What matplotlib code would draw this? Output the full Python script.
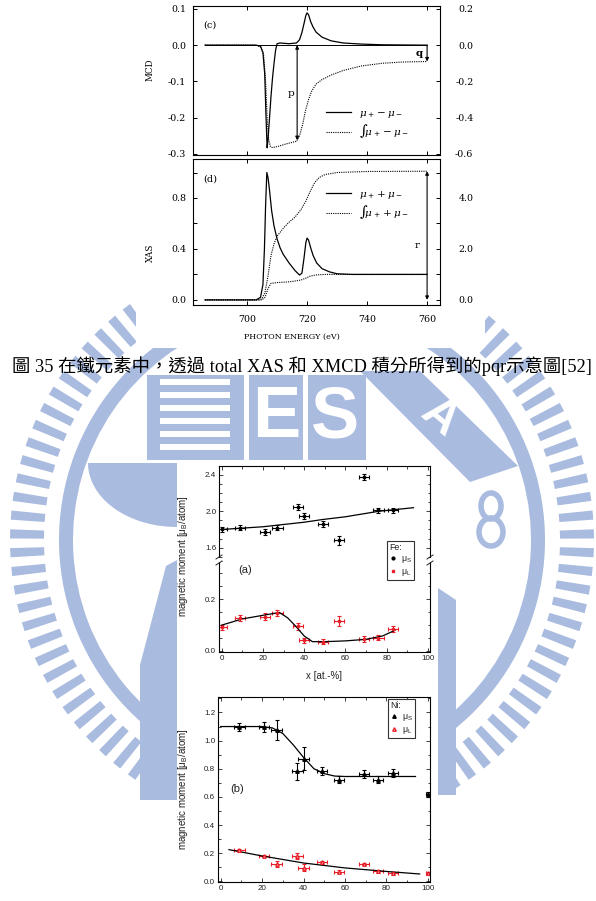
import numpy as np
import matplotlib.pyplot as plt
from matplotlib.patches import Rectangle, Polygon, Wedge, Ellipse
from matplotlib.lines import Line2D
from matplotlib.ticker import MultipleLocator, FormatStrFormatter

# ---- (c) XMCD spectrum, left axis ----
mcd_e = [686, 700, 703, 704.5, 705.3, 705.9, 706.3, 706.7, 707.0, 707.5, 708.0, 708.5, 709.0, 709.5, 710.0,
         711, 714, 716.5, 717.5, 718.3, 719.0, 719.6, 720.0, 720.5, 721.2,
         722, 723, 725, 728, 732, 738, 745, 760]
mcd = [0, 0, 0, -0.003, -0.02, -0.08, -0.19, -0.283, -0.26, -0.20, -0.14, -0.09, -0.05, -0.015, 0.004,
       0.006, 0.004, 0.006, 0.015, 0.035, 0.06, 0.082, 0.089, 0.084, 0.065,
       0.05, 0.036, 0.022, 0.012, 0.006, 0.003, 0.001, 0]
# integral of XMCD, right axis
mcd_int_e = [686, 703, 704.5, 705.5, 706.2, 706.7, 707.2, 707.8, 708.5, 710, 713, 716.5, 717.5,
             718.5, 719.5, 720.5, 721.5, 723, 725, 728, 732, 738, 745, 752, 760]
mcd_int = [0, 0, -0.01, -0.05, -0.2, -0.40, -0.52, -0.56, -0.565, -0.56, -0.545, -0.53, -0.50,
           -0.44, -0.36, -0.30, -0.255, -0.215, -0.19, -0.165, -0.14, -0.115, -0.10, -0.093, -0.09]
p_energy = 716.7

# ---- (d) XAS spectrum, left axis ----
xas_e = [686, 703, 704.5, 705.3, 705.8, 706.2, 706.6, 707.0, 707.5, 708.2,
         709, 710, 711, 712, 714, 716, 717.5, 718.3, 719, 719.6,
         720, 720.5, 721.2, 722, 723.2, 725, 727.5, 730, 735, 760]
xas = [0, 0, 0.02, 0.12, 0.40, 0.75, 1.0, 0.96, 0.86, 0.70,
       0.58, 0.48, 0.41, 0.36, 0.29, 0.23, 0.195, 0.21, 0.33, 0.45,
       0.485, 0.47, 0.41, 0.35, 0.29, 0.245, 0.22, 0.205, 0.2, 0.2]
# integral of XAS and step background, right axis
xas_int_e = [686, 704, 705, 706, 707, 708, 709, 710, 712, 714, 716, 718, 719.5, 721, 722.5, 724, 726, 730, 740, 760]
xas_int = [0, 0, 0.05, 0.3, 0.95, 1.75, 2.2, 2.5, 2.8, 3.05, 3.25, 3.55, 3.85, 4.25, 4.6, 4.8, 4.92, 5.0, 5.04, 5.05]
step_e = [686, 705, 706, 707, 708, 710, 714, 716.5, 718, 719.5, 721, 723, 726, 760]
step = [0, 0, 0.1, 0.45, 0.65, 0.68, 0.71, 0.75, 0.78, 0.85, 0.93, 0.98, 1.0, 1.0]

# ---- (a) Fe moments ----
fe_x = [0, 9, 21, 27, 37, 40, 49, 57, 69, 76, 83]
fe_xerr = [2.5, 2.5, 2.5, 2.5, 2.5, 2.5, 2.5, 2.5, 2.5, 2.5, 2.5]
fe_spin = [1.80, 1.82, 1.77, 1.82, 2.05, 1.95, 1.86, 1.68, 2.38, 2.01, 2.01]
fe_spin_err = [0.03, 0.03, 0.03, 0.03, 0.03, 0.03, 0.03, 0.05, 0.03, 0.03, 0.03]
fe_orb = [0.091, 0.129, 0.133, 0.147, 0.095, 0.041, 0.036, 0.117, 0.046, 0.051, 0.085]
fe_orb_err = [0.01, 0.012, 0.012, 0.01, 0.012, 0.01, 0.01, 0.02, 0.01, 0.01, 0.01]
fe_spin_fit_x = [0, 20, 40, 49, 60, 76, 93]
fe_spin_fit = [1.80, 1.83, 1.88, 1.91, 1.94, 2.00, 2.04]
fe_orb_fit_x = [0, 10, 20, 28, 32, 36, 40, 44, 50, 60, 70, 78, 84]
fe_orb_fit = [0.100, 0.124, 0.138, 0.149, 0.128, 0.095, 0.058, 0.036, 0.036, 0.039, 0.045, 0.058, 0.080]

# ---- (b) Ni moments ----
ni_x = [9, 21, 27, 37, 40, 49, 57, 69, 76, 83, 100]
ni_xerr = [2.5, 2.5, 2.5, 2.5, 2.5, 2.5, 2.5, 2.5, 2.5, 2.5, 1.0]
ni_spin = [1.096, 1.096, 1.077, 0.782, 0.872, 0.784, 0.723, 0.761, 0.723, 0.770, 0.617]
ni_spin_err = [0.03, 0.035, 0.07, 0.06, 0.08, 0.03, 0.025, 0.03, 0.025, 0.03, 0.02]
ni_orb = [0.220, 0.180, 0.123, 0.182, 0.097, 0.135, 0.069, 0.123, 0.071, 0.057, 0.057]
ni_orb_err = [0.01, 0.01, 0.02, 0.02, 0.025, 0.012, 0.01, 0.01, 0.01, 0.01, 0.01]
ni_spin_fit_x = [0, 20, 25, 30, 35, 40, 45, 50, 55, 60, 94]
ni_spin_fit = [1.10, 1.10, 1.09, 1.05, 0.97, 0.88, 0.80, 0.765, 0.748, 0.745, 0.745]
ni_orb_fit_x = [4, 20, 40, 60, 80, 96]
ni_orb_fit = [0.225, 0.18, 0.13, 0.095, 0.07, 0.052]

caption = '圖 35 在鐵元素中，透過 total XAS 和 XMCD 積分所得到的pqr示意圖[52]'

plt.rcParams['mathtext.fontset'] = 'dejavuserif'

W, H = 596, 901
fig = plt.figure(figsize=(W / 100, H / 100), dpi=100)


def box(x0, y0, x1, y1):
    return [x0 / W, 1 - y1 / H, (x1 - x0) / W, (y1 - y0) / H]


# background layer: watermark and the two pasted (white) images
bg = fig.add_axes([0, 0, 1, 1], zorder=0)
bg.set_xlim(0, W)
bg.set_ylim(H, 0)
bg.axis('off')
wm = '#a9bbdf'
cx, cy = 302, 540
for a in np.arange(-58, 239, 3.7):
    t0, t1 = np.radians(a - 0.9), np.radians(a + 0.9)
    pts = [(cx + r * np.cos(t), cy - r * np.sin(t)) for r, t in [(258, t0), (292, t0), (292, t1), (258, t1)]]
    bg.add_patch(Polygon(pts, color=wm, lw=0))
bg.add_patch(Wedge((cx, cy), 243, -238, 58, width=14, color=wm, lw=0))
# "T" stripes block, E and S blocks
bg.add_patch(Rectangle((147, 375), 219, 85, color=wm, lw=0))
for yy in [379, 392, 405, 418, 431, 444]:
    bg.add_patch(Rectangle((160, yy), 70, 6, color='white', lw=0))
bg.add_patch(Rectangle((244, 375), 5, 85, color='white', lw=0))
bg.add_patch(Rectangle((303, 375), 5, 85, color='white', lw=0))
bg.text(276, 418, 'E', color='white', fontsize=52, fontweight='bold', family='Liberation Sans',
        ha='center', va='center')
bg.text(335, 418, 'S', color='white', fontsize=52, fontweight='bold', family='Liberation Sans',
        ha='center', va='center')
bg.add_patch(Polygon([(360, 371), (420, 371), (518, 466), (470, 482)], color=wm, lw=0))
bg.text(440, 418, 'A', color='white', fontsize=34, fontweight='bold', family='Liberation Sans',
        ha='center', va='center', rotation=-40)
bg.add_patch(Ellipse((491, 506), 20, 26, fill=False, ec=wm, lw=4))
bg.add_patch(Ellipse((491, 532), 24, 28, fill=False, ec=wm, lw=4))
phi = np.radians(np.linspace(0, 90, 30))
bg.add_patch(Polygon([(177, 463)] + [(177 - 89 * np.cos(f), 463 + 64 * np.sin(f)) for f in phi],
                     color=wm, lw=0))
bg.add_patch(Polygon([(166, 566), (177, 560), (177, 800), (140, 800), (140, 665)], color=wm, lw=0))
bg.add_patch(Polygon([(438, 588), (456, 600), (456, 795), (438, 795)], color=wm, lw=0))
bg.add_patch(Rectangle((136, 0), 349, 348, color='white', lw=0))
bg.add_patch(Rectangle((177, 460), 261, 441, color='white', lw=0))

serif = 'DejaVu Serif'
sans = 'Liberation Sans'

# ---------------- (c) MCD ----------------
axc = fig.add_axes(box(193, 6, 440, 155), zorder=2)
axc.patch.set_alpha(0)
axc.plot(mcd_e, mcd, color='k', lw=0.9)
axc.hlines(0, mcd_e[0], mcd_e[-1], color='k', lw=0.7)
axc.set_xlim(682, 764.3)
axc.set_ylim(-0.303, 0.108)
axc.xaxis.set_major_locator(MultipleLocator(20))
axc.yaxis.set_major_locator(MultipleLocator(0.1))
axc.yaxis.set_major_formatter(FormatStrFormatter('%.1f'))
axc.tick_params(direction='in', length=3, width=0.7, top=True, labelbottom=False, labelsize=6.8, pad=5)
for lab in axc.get_yticklabels():
    lab.set_family(serif)

axc2 = axc.twinx()
axc2.set_zorder(2)
axc2.plot(mcd_int_e, mcd_int, color='k', lw=0.8, ls=(0, (1, 1)))
axc2.set_ylim(-0.606, 0.216)
axc2.yaxis.set_major_locator(MultipleLocator(0.2))
axc2.yaxis.set_major_formatter(FormatStrFormatter('%.1f'))
axc2.tick_params(direction='in', length=3, width=0.7, labelsize=6.8, pad=24)
for lab in axc2.get_yticklabels():
    lab.set_family(serif)
    lab.set_ha('right')
p_bot = np.interp(p_energy, mcd_int_e, mcd_int)
axc2.annotate('', xy=(p_energy, 0), xytext=(p_energy, p_bot),
              arrowprops=dict(arrowstyle='<|-|>', color='k', lw=0.8, mutation_scale=5, shrinkA=0, shrinkB=0))
axc2.annotate('', xy=(mcd_int_e[-1], mcd_int[-1]), xytext=(mcd_int_e[-1], 0),
              arrowprops=dict(arrowstyle='-|>', color='k', lw=0.8, mutation_scale=5, shrinkA=0, shrinkB=0))
axc.legend([Line2D([], [], color='k', lw=0.9), Line2D([], [], color='k', lw=0.8, ls=(0, (1, 1)))],
           [r'$\mu_+ - \mu_-$', r'$\int\!\mu_+ - \mu_-$'],
           loc='upper left', bbox_to_anchor=(326 / W, 1 - 108 / H), bbox_transform=fig.transFigure,
           frameon=False, fontsize=7.5, handlelength=2.4, handletextpad=0.8, labelspacing=0.25,
           borderaxespad=0, borderpad=0)
for s in axc.spines.values():
    s.set_linewidth(0.7)

# ---------------- (d) XAS ----------------
axd = fig.add_axes(box(193, 159, 440, 305), zorder=2)
axd.patch.set_alpha(0)
axd.plot(xas_e, xas, color='k', lw=0.9)
axd.set_xlim(682, 764.3)
axd.set_ylim(-0.04, 1.106)
axd.xaxis.set_major_locator(MultipleLocator(20))
axd.xaxis.set_major_formatter(FormatStrFormatter('%d'))
axd.yaxis.set_major_locator(MultipleLocator(0.4))
axd.yaxis.set_minor_locator(MultipleLocator(0.2))
axd.yaxis.set_major_formatter(FormatStrFormatter('%.1f'))
axd.tick_params(which='both', direction='in', length=3, width=0.7, top=True, labelsize=6.8, pad=5)
axd.tick_params(axis='x', pad=7)
for lab in axd.get_yticklabels() + axd.get_xticklabels():
    lab.set_family(serif)

axd2 = axd.twinx()
axd2.set_zorder(2)
axd2.plot(xas_int_e, xas_int, color='k', lw=0.8, ls=(0, (1, 1)))
axd2.plot(step_e, step, color='k', lw=0.8, ls=(0, (1, 1)))
axd2.set_ylim(-0.2, 5.53)
axd2.yaxis.set_major_locator(MultipleLocator(2))
axd2.yaxis.set_minor_locator(MultipleLocator(1))
axd2.yaxis.set_major_formatter(FormatStrFormatter('%.1f'))
axd2.tick_params(which='both', direction='in', length=3, width=0.7, labelsize=6.8, pad=24)
for lab in axd2.get_yticklabels():
    lab.set_family(serif)
    lab.set_ha('right')
axd2.annotate('', xy=(xas_int_e[-1], xas_int[-1]), xytext=(xas_int_e[-1], 0),
              arrowprops=dict(arrowstyle='<|-|>', color='k', lw=0.8, mutation_scale=5, shrinkA=0, shrinkB=0))
axd.legend([Line2D([], [], color='k', lw=0.9), Line2D([], [], color='k', lw=0.8, ls=(0, (1, 1)))],
           [r'$\mu_+ + \mu_-$', r'$\int\!\mu_+ + \mu_-$'],
           loc='upper left', bbox_to_anchor=(326 / W, 1 - 189 / H), bbox_transform=fig.transFigure,
           frameon=False, fontsize=7.5, handlelength=2.4, handletextpad=0.8, labelspacing=0.25,
           borderaxespad=0, borderpad=0)
for s in axd.spines.values():
    s.set_linewidth(0.7)

# ---------------- (a) Fe ----------------
ink = '#222222'
red = '#e8202a'
ax_at = fig.add_axes(box(219, 466, 430, 560), zorder=2)
ax_ab = fig.add_axes(box(219, 560, 430, 652), zorder=2)
for ax in (ax_at, ax_ab):
    ax.patch.set_alpha(0)
    ax.set_xlim(-1.3, 101)
    ax.xaxis.set_major_locator(MultipleLocator(20))
    ax.xaxis.set_minor_locator(MultipleLocator(10))
    ax.tick_params(which='both', direction='in', top=True, right=True, width=0.6, labelsize=5.8,
                   colors=ink, pad=2)
    ax.tick_params(which='major', length=3)
    ax.tick_params(which='minor', length=1.8)
    for s in ax.spines.values():
        s.set_linewidth(0.8)
ax_at.spines['bottom'].set_visible(False)
ax_ab.spines['top'].set_visible(False)
ax_at.tick_params(which='both', bottom=False, labelbottom=False)
ax_ab.tick_params(which='both', top=False)

ax_at.errorbar(fe_x, fe_spin, xerr=fe_xerr, yerr=fe_spin_err, fmt='s', ms=2, color='k',
               elinewidth=0.8, capsize=1.2, capthick=0.8)
ax_at.plot(fe_spin_fit_x, fe_spin_fit, color='k', lw=0.9)
ax_at.set_ylim(1.464, 2.499)
ax_at.yaxis.set_major_locator(MultipleLocator(0.4))
ax_at.yaxis.set_minor_locator(MultipleLocator(0.1))
ax_at.yaxis.set_major_formatter(FormatStrFormatter('%.1f'))

ax_ab.errorbar(fe_x, fe_orb, xerr=fe_xerr, yerr=fe_orb_err, fmt='s', ms=2, color=red,
               elinewidth=0.8, capsize=1.2, capthick=0.8)
ax_ab.plot(fe_orb_fit_x, fe_orb_fit, color='k', lw=0.9)
ax_ab.set_ylim(-0.004, 0.352)
ax_ab.yaxis.set_major_locator(MultipleLocator(0.2))
ax_ab.yaxis.set_minor_locator(MultipleLocator(0.05))
ax_ab.yaxis.set_major_formatter(FormatStrFormatter('%.1f'))
ax_ab.xaxis.set_major_formatter(FormatStrFormatter('%d'))
for lab in ax_at.get_yticklabels() + ax_ab.get_yticklabels() + ax_ab.get_xticklabels():
    lab.set_family(sans)

leg = ax_ab.legend([Line2D([], [], ls='', marker='o', ms=2, color='k'),
                    Line2D([], [], ls='', marker='s', ms=2, color=red)],
                   ['μ$_\\mathregular{S}$', 'μ$_\\mathregular{L}$'], title='Fe:', alignment='left',
                   loc='upper left', bbox_to_anchor=(387 / W, 1 - 541 / H), bbox_transform=fig.transFigure,
                   fontsize=6.3, title_fontsize=6.3, handlelength=0.8, handletextpad=0.5, labelspacing=0.2,
                   borderpad=0.25, borderaxespad=0, fancybox=False, edgecolor='#333333', framealpha=1)
leg.get_frame().set_linewidth(0.8)
for txt in leg.get_texts() + [leg.get_title()]:
    txt.set_family(sans)
    txt.set_color(ink)

# ---------------- (b) Ni ----------------
ax_b = fig.add_axes(box(218, 697, 430, 882), zorder=2)
ax_b.patch.set_alpha(0)
ax_b.errorbar(ni_x, ni_spin, xerr=ni_xerr, yerr=ni_spin_err, fmt='^', ms=2.5, color='k',
              elinewidth=0.8, capsize=1.2, capthick=0.8)
ax_b.plot(ni_spin_fit_x, ni_spin_fit, color='k', lw=0.9)
ax_b.errorbar(ni_x, ni_orb, xerr=ni_xerr, yerr=ni_orb_err, fmt='^', ms=2.5, color=red, mfc='white',
              elinewidth=0.8, capsize=1.2, capthick=0.8)
ax_b.plot(ni_orb_fit_x, ni_orb_fit, color='k', lw=0.9)
ax_b.set_xlim(-1.3, 101)
ax_b.set_ylim(-0.005, 1.31)
ax_b.xaxis.set_major_locator(MultipleLocator(20))
ax_b.xaxis.set_minor_locator(MultipleLocator(10))
ax_b.yaxis.set_major_locator(MultipleLocator(0.2))
ax_b.yaxis.set_minor_locator(MultipleLocator(0.1))
ax_b.xaxis.set_major_formatter(FormatStrFormatter('%d'))
ax_b.yaxis.set_major_formatter(FormatStrFormatter('%.1f'))
ax_b.tick_params(which='both', direction='in', top=True, right=True, width=0.6, labelsize=5.8,
                 colors=ink, pad=2)
ax_b.tick_params(which='major', length=3)
ax_b.tick_params(which='minor', length=1.8)
for s in ax_b.spines.values():
    s.set_linewidth(0.8)
for lab in ax_b.get_yticklabels() + ax_b.get_xticklabels():
    lab.set_family(sans)
leg = ax_b.legend([Line2D([], [], ls='', marker='^', ms=2.5, color='k'),
                   Line2D([], [], ls='', marker='^', ms=2.5, color=red, mfc='white')],
                  ['μ$_\\mathregular{S}$', 'μ$_\\mathregular{L}$'], title='Ni:', alignment='left',
                  loc='upper left', bbox_to_anchor=(388 / W, 1 - 699 / H), bbox_transform=fig.transFigure,
                  fontsize=6.3, title_fontsize=6.3, handlelength=0.8, handletextpad=0.5, labelspacing=0.2,
                  borderpad=0.25, borderaxespad=0, fancybox=False, edgecolor='#333333', framealpha=1)
leg.get_frame().set_linewidth(0.8)
for txt in leg.get_texts() + [leg.get_title()]:
    txt.set_family(sans)
    txt.set_color(ink)

# ---------------- overlay texts ----------------
ov = fig.add_axes([0, 0, 1, 1], zorder=5)
ov.set_xlim(0, W)
ov.set_ylim(H, 0)
ov.axis('off')
ov.text(210, 25, '(c)', family=serif, fontsize=7, ha='center', va='center')
ov.text(210, 179, '(d)', family=serif, fontsize=7, ha='center', va='center')
ov.text(291, 94, 'p', family=serif, fontsize=7.5, ha='center', va='center')
ov.text(419, 53, 'q', family=serif, fontsize=7.5, ha='center', va='center', fontweight='bold')
ov.text(417, 245, 'r', family=serif, fontsize=7.5, ha='center', va='center')
ov.text(150, 70, 'MCD', family=serif, fontsize=6.3, rotation=90, ha='center', va='center')
ov.text(150, 253, 'XAS', family=serif, fontsize=6.3, rotation=90, ha='center', va='center')
ov.text(292, 337, 'PHOTON ENERGY (eV)', family=serif, fontsize=5.8, ha='center', va='center')
ov.text(302, 366, caption, family=['Liberation Serif', 'Noto Sans CJK TC'], fontsize=13.2,
        ha='center', va='center')

ov.text(245, 570, '(a)', family=sans, fontsize=8, ha='center', va='center', color=ink)
ov.text(237, 789, '(b)', family=sans, fontsize=8, ha='center', va='center', color=ink)
ylab = 'magnetic moment [μ$_\\mathregular{B}$/atom]'
ov.text(183, 556, ylab, family=sans, fontsize=7, rotation=90, ha='center', va='center', color=ink)
ov.text(183, 789, ylab, family=sans, fontsize=7, rotation=90, ha='center', va='center', color=ink)
ov.text(324, 676, 'x [at.-%]', family=sans, fontsize=7, ha='center', va='center', color=ink)
# axis-break marks
for bx in (219, 430):
    ov.add_patch(Rectangle((bx - 3, 558), 6, 4, color='white', lw=0))
    ov.plot([bx - 3, bx + 3], [559, 555], color=ink, lw=0.7)
    ov.plot([bx - 3, bx + 3], [565, 561], color=ink, lw=0.7)

fig.savefig('out.png', dpi=100)
